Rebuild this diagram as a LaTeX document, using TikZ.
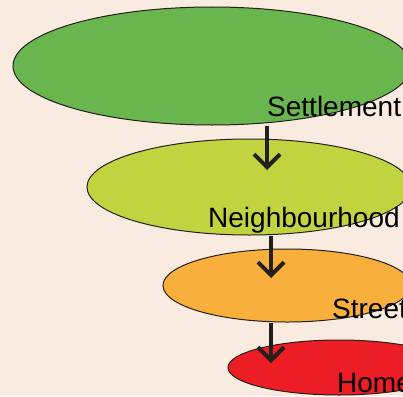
\documentclass[tikz,border=0pt]{standalone}
\usepackage{fontspec}
\setmainfont{Liberation Sans}
\usepackage{tikz}
\usetikzlibrary{shapes.geometric,arrows.meta}
\definecolor{bgpeach}{HTML}{FAEBE0}
\definecolor{lvgreen}{HTML}{6AB64E}
\definecolor{lvlime}{HTML}{C1D440}
\definecolor{lvorange}{HTML}{F9AF3B}
\definecolor{lvred}{HTML}{ED1D26}
\definecolor{inkdark}{HTML}{231F1A}
\def\blob#1#2#3{node[draw=inkdark,line width=1pt,ellipse,inner sep=0pt,fill=#1,minimum width=#2pt,minimum height=#3pt]}
\def\darr{\draw[inkdark,line width=4pt,-{Straight Barb[length=13pt,width=26pt,line width=4pt]}]}

\begin{document}
\begin{tikzpicture}[x=1pt,y=-1pt]
                \useasboundingbox (0,0) rectangle (403,396);
                \fill[bgpeach] (0,0) rectangle (403,396);
                \clip (0,0) rectangle (403,396);
                \path (212,66)    \blob{lvgreen}{398}{118}  (settle) {};
                \path (249,187)   \blob{lvlime}{324}{96}    (hood) {};
                \path (287,285.5) \blob{lvorange}{248}{73}  (street) {};
                \path (339,367.5) \blob{lvred}{222}{55}     (home) {};
                \node[anchor=base west,font=\fontsize{28}{30}\selectfont,inner sep=0pt] (settletxt) at (267,116) {Settlement};
                \node[anchor=base west,font=\fontsize{28}{30}\selectfont,inner sep=0pt] (hoodtxt) at (208,227) {Neighbourhood};
                \node[anchor=base west,font=\fontsize{28}{30}\selectfont,inner sep=0pt] (streettxt) at (332,318) {Street};
                \node[anchor=base west,font=\fontsize{28}{30}\selectfont,inner sep=0pt] (hometxt) at (337,392) {Home};
                \coordinate (tipa) at (267,170);
                \coordinate (tipb) at (271,278);
                \coordinate (tipc) at (271,363);
                \darr (tipa |- settle.south) -- (tipa);
                \darr (tipb |- hood.south) -- (tipb);
                \darr (tipc |- street.south) -- (tipc);
            \end{tikzpicture}
\end{document}
